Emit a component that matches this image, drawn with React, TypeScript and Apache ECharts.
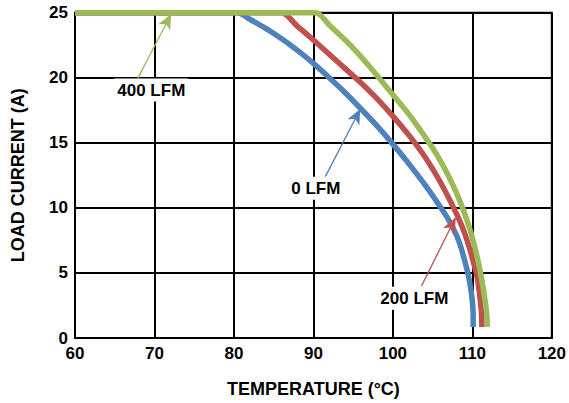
import React, { useEffect, useRef } from "react";
import * as echarts from "echarts";

// Temperature (°C), load current (A)
const blue0LFM: [number, number][] = [
  [60, 25], [80.5, 25], [82, 24.5], [84, 23.8], [86, 23.0], [88, 22.1], [90, 21.1],
  [92, 20.0], [94, 18.85], [96, 17.6], [98, 16.3], [100, 14.9], [102, 13.4],
  [104, 11.8], [106, 10.05], [107, 9.1], [108, 7.9], [108.6, 6.9], [109.1, 5.8],
  [109.5, 4.8], [109.8, 3.8], [110, 2.8], [110.1, 1.8], [110.1, 0.85],
];
const red200LFM: [number, number][] = [
  [60, 25], [86, 25], [88, 23.95], [90, 22.9], [92, 21.8], [94, 20.7], [96, 19.6],
  [98, 18.4], [100, 17.05], [102, 15.6], [103, 14.8], [104, 13.95], [105, 13.0],
  [106, 11.95], [107, 10.8], [107.6, 10.05], [108.3, 9.15], [109, 8.1], [109.6, 7.0],
  [110.1, 5.9], [110.5, 5.0], [110.8, 3.9], [111, 2.9], [111.15, 1.9], [111.2, 0.85],
];
const green400LFM: [number, number][] = [
  [60, 25], [90.3, 25], [92, 24.05], [94, 22.9], [95.5, 21.95], [97, 20.9], [98.5, 19.8],
  [100, 18.7], [102, 17.2], [104, 15.5], [105, 14.6], [106, 13.6], [107, 12.45],
  [108, 11.15], [108.7, 10.1], [109.4, 8.9], [110, 7.7], [110.5, 6.5], [111, 5.1],
  [111.35, 3.9], [111.6, 2.9], [111.8, 1.9], [111.9, 0.85],
];
const seriesNames = ["0 LFM", "200 LFM", "400 LFM"];
const seriesColors = ["#4F81BD", "#C0504D", "#9BBB59"];
// annotation: label position, arrow tail, arrow tip (data coords)
const labelPos: [number, number][] = [[90.3, 11.5], [102.7, 3.05], [69.6, 19.05]];
const arrowTail: [number, number][] = [[91.5, 12.4], [103.6, 4.0], [67.9, 19.95]];
const arrowTip: [number, number][] = [[95.9, 17.6], [107.9, 9.26], [72.1, 24.9]];
const xTicks = { min: 60, max: 120, interval: 10 };
const yTicks = { min: 0, max: 25, interval: 5 };

const FONT = "'Liberation Sans', Arial, sans-serif";

export default function App() {
  const ref = useRef<HTMLDivElement>(null);
  useEffect(() => {
    if (!ref.current) return;
    const chart = echarts.init(ref.current, undefined, { renderer: "svg" });
    const datasets = [blue0LFM, red200LFM, green400LFM];
    const series: any[] = datasets.map((d, i) => ({
      type: "line",
      name: seriesNames[i],
      data: d,
      symbol: "none",
      smooth: 0.25,
      clip: false,
      z: 3 + i,
      lineStyle: { color: seriesColors[i], width: 5.5 },
      itemStyle: { color: seriesColors[i] },
      markLine: {
        silent: true,
        symbol: ["none", "arrow"],
        symbolSize: [10, 15],
        label: { show: false },
        lineStyle: { color: seriesColors[i], width: 1.3, type: "solid" },
        data: [[{ coord: arrowTail[i] }, { coord: arrowTip[i] }]],
      },
      markPoint: {
        silent: true,
        symbol: "circle",
        symbolSize: 1,
        itemStyle: { color: "rgba(0,0,0,0)" },
        label: {
          show: true,
          position: "inside",
          formatter: seriesNames[i],
          color: "#000",
          fontFamily: FONT,
          fontWeight: "bold",
          fontSize: 17,
          backgroundColor: "#fff",
          padding: [3, 3],
        },
        data: [{ coord: labelPos[i] }],
      },
    }));
    chart.setOption({
      animation: false,
      backgroundColor: "#fff",
      grid: {
        left: 75, right: 15, top: 12.7, bottom: 65,
        show: true, borderColor: "#000", borderWidth: 2,
      },
      xAxis: {
        type: "value",
        ...xTicks,
        name: "TEMPERATURE (°C)",
        nameLocation: "middle",
        nameGap: 42,
        nameTextStyle: { fontFamily: FONT, fontWeight: "bold", fontSize: 18, color: "#000" },
        axisLine: { show: true, lineStyle: { color: "#000", width: 2 } },
        axisTick: { show: false },
        axisLabel: { fontFamily: FONT, fontWeight: "bold", fontSize: 17, color: "#000", margin: 7 },
        splitLine: { show: true, lineStyle: { color: "#000", width: 2 } },
      },
      yAxis: {
        type: "value",
        ...yTicks,
        name: "LOAD CURRENT (A)",
        nameLocation: "middle",
        nameGap: 48,
        nameTextStyle: { fontFamily: FONT, fontWeight: "bold", fontSize: 18, color: "#000" },
        axisLine: { show: true, lineStyle: { color: "#000", width: 2 } },
        axisTick: { show: false },
        axisLabel: { fontFamily: FONT, fontWeight: "bold", fontSize: 17, color: "#000", margin: 7 },
        splitLine: { show: true, lineStyle: { color: "#000", width: 2 } },
      },
      series,
    });
    return () => chart.dispose();
  }, []);
  return (
    <div
      ref={ref}
      style={{ position: "absolute", left: 0, top: 0, width: 569, height: 403 }}
    />
  );
}
